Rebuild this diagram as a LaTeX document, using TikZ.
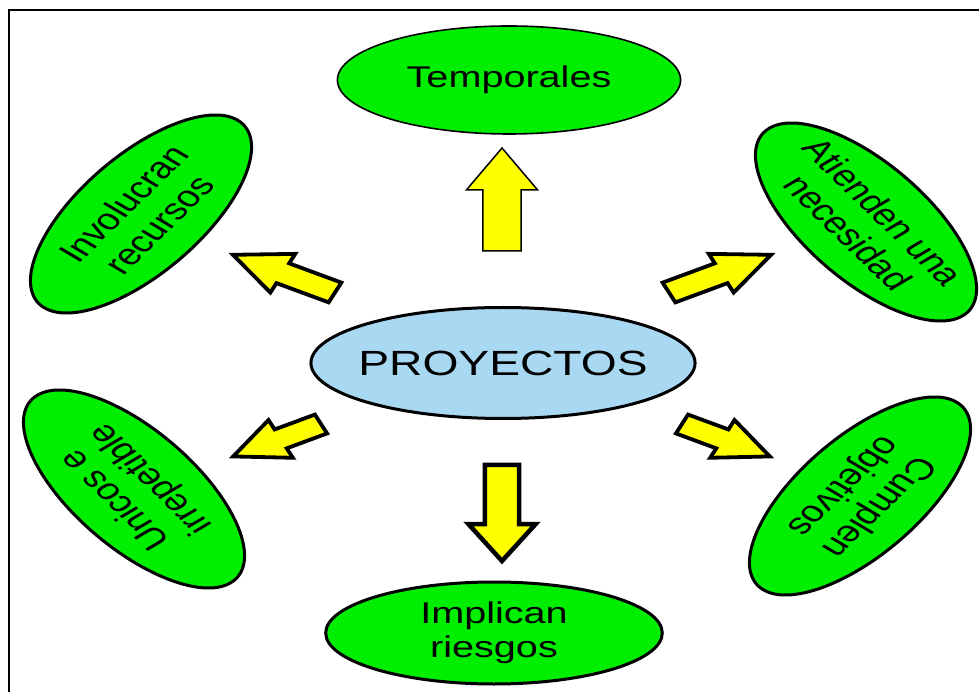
\documentclass[tikz,border=0pt]{standalone}
\usepackage{fontspec}
\setmainfont{Liberation Sans}
\usetikzlibrary{shapes.geometric}
\definecolor{lgreen}{RGB}{0,238,0}
\definecolor{lblue}{RGB}{168,216,242}
\definecolor{yarrow}{RGB}{255,255,0}
\tikzset{
  pics/barrow/.style args={#1/#2/#3/#4}{code={
    \draw[arrowbody] (0,-#4) -- ({#1-#2},-#4) -- ({#1-#2},-#3) -- (#1,0) -- ({#1-#2},#3) -- ({#1-#2},#4) -- (0,#4) -- cycle;}},
  arrowbody/.style={fill=yarrow, draw=black, line width=3.8pt, line join=miter},
  thinarrow/.style={arrowbody/.append style={line width=1.5pt}},
  oval/.style={ellipse, draw=black, line width=3pt, inner sep=-30pt, align=center, xscale=1.32, font=\fontsize{30}{34}\selectfont},
  greenoval/.style={oval, fill=lgreen},
  sideoval/.style={greenoval, minimum width=238pt, minimum height=103pt},
}
\begin{document}
\begin{tikzpicture}[x=1pt,y=1pt]
\useasboundingbox (0,0) rectangle (979,691);
\clip (0,0) rectangle (979,691);
\draw[line width=2pt] (8.5,681) rectangle (1000,-10);

% ovals
\node[greenoval, minimum width=260pt, minimum height=108pt, line width=1.6pt] (T) at (509,611) {Temporales};
\node[oval, fill=lblue, minimum width=291pt, minimum height=111pt, font=\fontsize{35}{40}\selectfont] (P) at (503,328) {PROYECTOS};
\node[greenoval, minimum width=255pt, minimum height=102pt] (I) at (494,58) {Implican\\riesgos};
\node[sideoval, rotate=52] (IR) at (141,477) {Involucran\\recursos};
\node[sideoval, rotate=-52] (AN) at (866,469) {Atienden una\\necesidad};
\node[sideoval, rotate=128] (UI) at (134,202) {Unicos e\\irrepetible};
\node[sideoval, rotate=232] (CO) at (860,195) {Cumplen\\objetivos};

% block arrows
\coordinate (aU) at (502,440);
\coordinate (aD) at (502,226);
\coordinate (aUL) at (335,398.5);
\coordinate (aUR) at (669,398.5);
\coordinate (aLL) at (321,267);
\coordinate (aLR) at (682,267);
\pic[xscale=1.32, rotate=90, thinarrow] at (aU) {barrow=103/42/27/14.4};
\pic[xscale=1.32, rotate=-90, arrowbody/.append style={line width=4.5pt}] at (aD) {barrow=96/37/25.5/13};
\pic[xscale=1.32, rotate=154] at (aUL) {barrow=86/42/21.5/11};
\pic[xscale=1.32, rotate=26] at (aUR) {barrow=86/42/21.5/11};
\pic[xscale=1.32, rotate=206] at (aLL) {barrow=74/40/21/10.5};
\pic[xscale=1.32, rotate=-26] at (aLR) {barrow=74/40/21/10.5};
\end{tikzpicture}
\end{document}
